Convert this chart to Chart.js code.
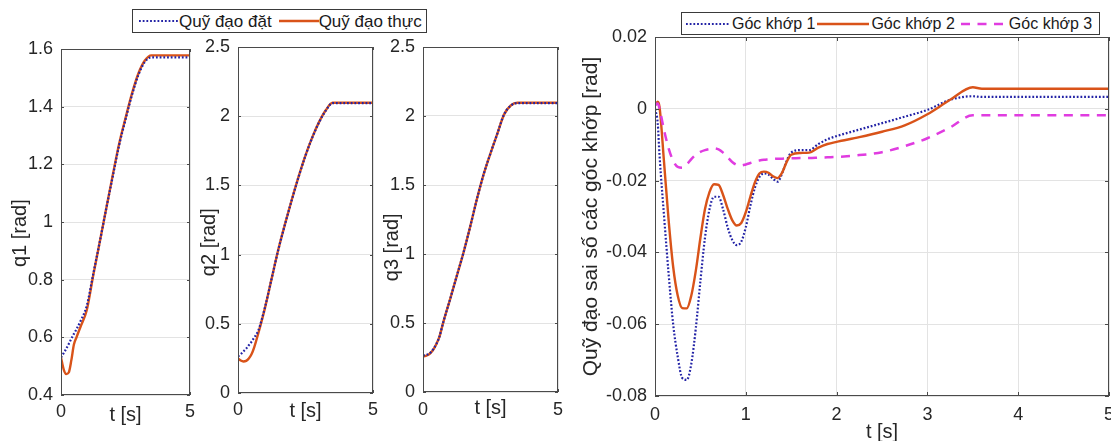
<!DOCTYPE html>
<html>
<head>
<meta charset="utf-8">
<script src="https://cdn.jsdelivr.net/npm/chart.js@4.4.1/dist/chart.umd.min.js"></script>
<style>
    body { margin: 0; background: #fff; font-family: 'Liberation Sans', Arial, sans-serif; }
    #wrap { position: relative; width: 1111px; height: 441px; overflow: hidden; }
    #wrap canvas { position: absolute; left: 0; top: 0; }
    .legend { position: absolute; background: #fff; border: 1px solid #3a3a3a; display: flex; align-items: center;
              box-sizing: border-box; color: #1a1a1a; white-space: nowrap; }
    .legend svg { display: block; }
    .legend span { line-height: 1; }
</style>
</head>
<body>
<div id="wrap">
    <canvas id="q1Chart" width="1111" height="441"></canvas>
    <canvas id="q2Chart" width="1111" height="441"></canvas>
    <canvas id="q3Chart" width="1111" height="441"></canvas>
    <canvas id="errChart" width="1111" height="441"></canvas>

    <div class="legend" style="left:132px; top:9px; width:295px; height:24px; font-size:17px; padding-left:6px;">
        <svg width="40" height="10"><line x1="0" y1="5" x2="40" y2="5" stroke="#2323a6" stroke-width="2.2" stroke-dasharray="1.8 1.9"/></svg>
        <span>Quỹ đạo đặt</span>
        <svg width="40" height="10" style="margin-left:7px"><line x1="0" y1="5" x2="40" y2="5" stroke="#d95319" stroke-width="2.4"/></svg>
        <span>Quỹ đạo thực</span>
    </div>

    <div class="legend" style="left:681px; top:12px; width:419px; height:23px; font-size:16px; padding-left:4px;">
        <svg width="44" height="10"><line x1="0" y1="5" x2="44" y2="5" stroke="#2323a6" stroke-width="2.2" stroke-dasharray="1.8 1.9"/></svg>
        <span style="margin-left:2px">Góc khớp 1</span>
        <svg width="52" height="10" style="margin-left:2px"><line x1="0" y1="5" x2="52" y2="5" stroke="#d95319" stroke-width="2.4"/></svg>
        <span style="margin-left:2px">Góc khớp 2</span>
        <svg width="46" height="10" style="margin-left:6px"><line x1="0" y1="5" x2="46" y2="5" stroke="#e03ce0" stroke-width="2.5" stroke-dasharray="9 7.5"/></svg>
        <span style="margin-left:2px">Góc khớp 3</span>
    </div>
</div>

<script>
// ==================== DATA ====================

// ── Joint trajectories (left three plots) ─────────────────────────────
const tJoint = [0, 0.1, 0.2, 0.3, 0.4, 0.5, 0.6, 0.75, 1.0, 1.25, 1.5, 1.75, 2.0, 2.25, 2.5, 2.75, 3.0, 3.25, 3.5, 3.75, 4.0, 4.5, 5.0];

const q1Desired = [0.53, 0.545, 0.56, 0.577, 0.595, 0.612, 0.628, 0.655, 0.71, 0.82, 0.93, 1.045, 1.155, 1.265, 1.355, 1.44, 1.51, 1.555, 1.571, 1.571, 1.571, 1.571, 1.571];
const q1Actual  = [0.53, 0.49, 0.473, 0.478, 0.52, 0.575, 0.60, 0.635, 0.695, 0.815, 0.93, 1.045, 1.16, 1.27, 1.36, 1.445, 1.515, 1.56, 1.578, 1.578, 1.578, 1.578, 1.578];

const q2Desired = [0.265, 0.28, 0.30, 0.32, 0.345, 0.37, 0.40, 0.45, 0.62, 0.83, 1.04, 1.225, 1.40, 1.565, 1.715, 1.845, 1.955, 2.04, 2.094, 2.094, 2.094, 2.094, 2.094];
const q2Actual  = [0.25, 0.235, 0.228, 0.232, 0.25, 0.28, 0.33, 0.43, 0.615, 0.83, 1.042, 1.227, 1.402, 1.567, 1.717, 1.847, 1.957, 2.043, 2.097, 2.097, 2.097, 2.097, 2.097];

const q3Desired = [0.265, 0.268, 0.275, 0.29, 0.315, 0.35, 0.395, 0.505, 0.67, 0.84, 1.01, 1.20, 1.40, 1.58, 1.73, 1.87, 2.01, 2.075, 2.094, 2.094, 2.094, 2.094, 2.094];
const q3Actual  = [0.258, 0.262, 0.27, 0.287, 0.313, 0.35, 0.395, 0.505, 0.67, 0.84, 1.01, 1.20, 1.40, 1.58, 1.73, 1.87, 2.01, 2.076, 2.096, 2.096, 2.096, 2.096, 2.096];

// ── Tracking errors (right plot) ──────────────────────────────────────
const tErr = [0, 0.03, 0.05, 0.1, 0.15, 0.2, 0.25, 0.3, 0.35, 0.4, 0.45, 0.5, 0.55, 0.6, 0.65, 0.7, 0.75, 0.8, 0.85, 0.9,
              0.95, 1.0, 1.05, 1.1, 1.15, 1.2, 1.25, 1.3, 1.35, 1.4, 1.45, 1.5, 1.6, 1.7, 1.8, 1.9, 2.0, 2.25, 2.5, 2.75,
              3.0, 3.25, 3.5, 3.6, 4.0, 4.5, 5.0];

const err1 = [0, -0.004, -0.013, -0.030, -0.046, -0.060, -0.069, -0.075, -0.0755, -0.071, -0.061, -0.048, -0.036, -0.028, -0.0245, -0.0245, -0.028, -0.033, -0.0365, -0.038,
              -0.037, -0.033, -0.027, -0.022, -0.019, -0.018, -0.0183, -0.0195, -0.0203, -0.018, -0.0145, -0.0122, -0.0115, -0.0115, -0.0098, -0.0085, -0.0076, -0.0058, -0.004, -0.0022,
              -0.0003, 0.0025, 0.0035, 0.0033, 0.0033, 0.0033, 0.0033];
const err2 = [0.001, 0.002, 0.0005, -0.015, -0.031, -0.044, -0.052, -0.0555, -0.0556, -0.052, -0.045, -0.036, -0.028, -0.0232, -0.021, -0.0212, -0.024, -0.0278, -0.031, -0.0325,
              -0.0318, -0.0288, -0.0245, -0.0205, -0.018, -0.0175, -0.0178, -0.0188, -0.0193, -0.0178, -0.0148, -0.0128, -0.0123, -0.0122, -0.0108, -0.0098, -0.0092, -0.0079, -0.0064, -0.0046,
              -0.0015, 0.0025, 0.006, 0.0056, 0.0056, 0.0056, 0.0056];
const err3 = [0.001, 0.0015, 0, -0.006, -0.011, -0.0145, -0.0162, -0.0164, -0.0155, -0.014, -0.0128, -0.012, -0.0115, -0.0112, -0.011, -0.0113, -0.0122, -0.0135, -0.0148, -0.0156,
              -0.0158, -0.0155, -0.0151, -0.0147, -0.0144, -0.0142, -0.0141, -0.014, -0.0139, -0.0139, -0.0138, -0.0138, -0.0137, -0.0137, -0.0136, -0.0135, -0.0134, -0.0129, -0.0121, -0.0104,
              -0.0082, -0.0052, -0.0018, -0.0018, -0.0018, -0.0018, -0.0018];

const legendDesired = 'Quỹ đạo đặt';
const legendActual = 'Quỹ đạo thực';
const errLabels = ['Góc khớp 1', 'Góc khớp 2', 'Góc khớp 3'];

// ==================== STYLE ====================
const BLUE = '#2323a6', ORANGE = '#d95319', MAGENTA = '#e03ce0';
const FONT = "'Liberation Sans', Arial, sans-serif";
Chart.defaults.font.family = FONT;

function toPoints(t, v) {
    return t.map((x, i) => ({ x, y: v[i] }));
}

function fmtTick(v) {
    return String(parseFloat(Number(v).toFixed(3)));
}

// trailing no-break spaces push a rotated y title down a little (MATLAB labels sit low)
function lowTitle(text, n) {
    return text + '\u00a0'.repeat(n);
}

// axes box with inward ticks like MATLAB
const boxPlugin = {
    id: 'matlabBox',
    afterDatasetsDraw(chart, args, opts) {
        const { ctx, chartArea: a, scales: { x, y } } = chart;
        const len = opts.tick || 3;
        ctx.save();
        ctx.strokeStyle = '#4a4a4a';
        ctx.lineWidth = 1;
        ctx.strokeRect(Math.round(a.left) + 0.5, Math.round(a.top) + 0.5, Math.round(a.width) - 1, Math.round(a.height) - 1);
        ctx.beginPath();
        x.ticks.forEach(t => {
            const px = Math.round(x.getPixelForValue(t.value)) + 0.5;
            ctx.moveTo(px, a.bottom); ctx.lineTo(px, a.bottom - len);
            ctx.moveTo(px, a.top); ctx.lineTo(px, a.top + len);
        });
        y.ticks.forEach(t => {
            const py = Math.round(y.getPixelForValue(t.value)) + 0.5;
            ctx.moveTo(a.left, py); ctx.lineTo(a.left + len, py);
            ctx.moveTo(a.right, py); ctx.lineTo(a.right - len, py);
        });
        ctx.stroke();
        ctx.restore();
    }
};

// box = {left, right, top, bottom} of the plot area, titleX = centre of y title
function makeChart(id, datasets, box, axes) {
    const W = 1111, H = 441;
    const ySize = axes.yTitleSize || 20;
    const padLeft = Math.round(axes.titleX - ySize * 0.6);
    return new Chart(document.getElementById(id).getContext('2d'), {
        type: 'line',
        data: { datasets },
        options: {
            responsive: false,
            animation: false,
            devicePixelRatio: 1,
            layout: { padding: { left: padLeft, right: W - box.right, top: box.top, bottom: 0 } },
            plugins: { legend: { display: false }, tooltip: { enabled: false }, matlabBox: { tick: axes.tick } },
            elements: { point: { radius: 0 }, line: { cubicInterpolationMode: 'monotone', borderCapStyle: 'butt' } },
            scales: {
                x: {
                    type: 'linear',
                    min: 0, max: 5,
                    ticks: { stepSize: axes.xStep, padding: axes.xPad, color: '#262626', font: { size: 18 }, maxRotation: 0, autoSkip: false, callback: fmtTick },
                    grid: { color: '#e3e3e3', drawTicks: false },
                    border: { display: false },
                    title: { display: true, text: 't [s]', color: '#262626', font: { size: 20 }, padding: { top: 0, bottom: axes.xTitlePad } },
                    afterFit(s) { s.height = H - box.bottom; s.paddingLeft = 0; s.paddingRight = 0; }
                },
                y: {
                    min: axes.yMin, max: axes.yMax,
                    ticks: { stepSize: axes.yStep, padding: 8, color: '#262626', font: { size: 18 }, callback: fmtTick },
                    grid: { color: '#e3e3e3', drawTicks: false },
                    border: { display: false },
                    title: { display: true, text: axes.yTitle, color: '#262626', font: { size: ySize }, padding: { top: 0, bottom: 0 } },
                    afterFit(s) { s.width = box.left - padLeft; s.paddingTop = 0; s.paddingBottom = 0; }
                }
            }
        },
        plugins: [boxPlugin]
    });
}

function jointSets(desired, actual) {
    return [
        { label: legendDesired, data: toPoints(tJoint, desired), borderColor: BLUE, borderWidth: 2.2, borderDash: [1.8, 1.9], order: 0 },
        { label: legendActual, data: toPoints(tJoint, actual), borderColor: ORANGE, borderWidth: 2.4, order: 1 }
    ];
}

// ==================== CHARTS ====================
makeChart('q1Chart', jointSets(q1Desired, q1Actual),
    { left: 61, right: 190, top: 49, bottom: 395 },
    { titleX: 20, yTitle: lowTitle('q1 [rad]', 4), yMin: 0.4, yMax: 1.6, yStep: 0.2, xStep: 5, xPad: 6, xTitlePad: 14, tick: 3 });

makeChart('q2Chart', jointSets(q2Desired, q2Actual),
    { left: 238, right: 373, top: 47, bottom: 393 },
    { titleX: 209, yTitle: lowTitle('q2 [rad]', 8), yMin: 0, yMax: 2.5, yStep: 0.5, xStep: 5, xPad: 6, xTitlePad: 18, tick: 3 });

makeChart('q3Chart', jointSets(q3Desired, q3Actual),
    { left: 423, right: 558, top: 47, bottom: 392 },
    { titleX: 392, yTitle: lowTitle('q3 [rad]', 10), yMin: 0, yMax: 2.5, yStep: 0.5, xStep: 5, xPad: 7, xTitlePad: 21, tick: 3 });

makeChart('errChart', [
        { label: errLabels[0], data: toPoints(tErr, err1), borderColor: BLUE, borderWidth: 2.2, borderDash: [1.8, 1.9], order: 3 },
        { label: errLabels[1], data: toPoints(tErr, err2), borderColor: ORANGE, borderWidth: 2.4, order: 2 },
        { label: errLabels[2], data: toPoints(tErr, err3), borderColor: MAGENTA, borderWidth: 2.5, borderDash: [9, 7.5], order: 1 }
    ],
    { left: 655, right: 1109, top: 37, bottom: 396 },
    { titleX: 592, yTitle: 'Quỹ đạo sai số các góc khớp [rad]', yTitleSize: 21, yMin: -0.08, yMax: 0.02, yStep: 0.02, xStep: 1, xPad: 8, xTitlePad: -3, tick: 4 });
</script>
</body>
</html>
